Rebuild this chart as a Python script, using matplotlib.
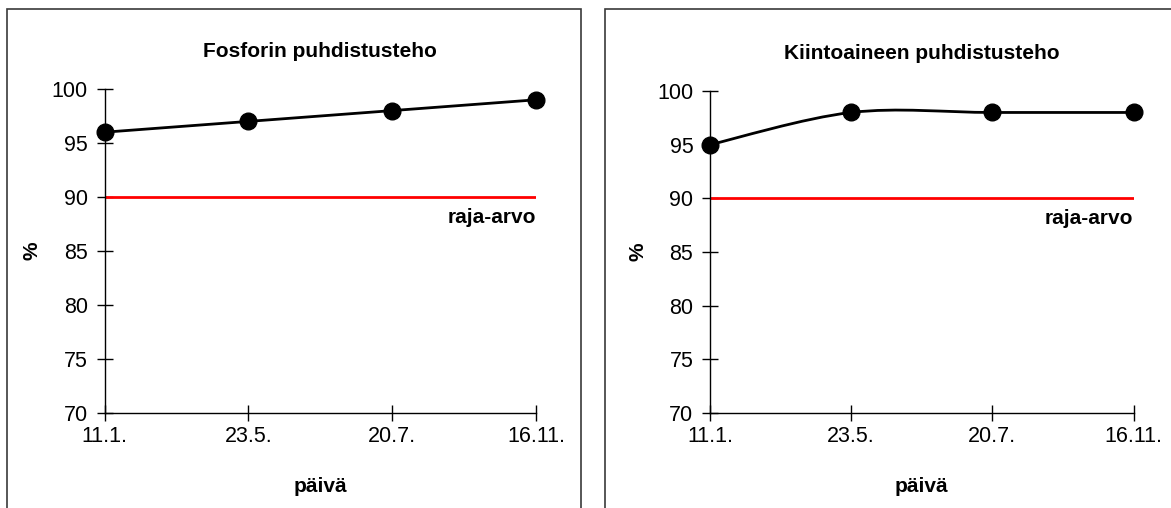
import numpy as np
import matplotlib
matplotlib.use('Agg')
import matplotlib.pyplot as plt
from matplotlib.patches import Rectangle
from matplotlib.path import Path
from matplotlib.patches import PathPatch

plt.rcParams['font.family'] = ['Liberation Sans', 'DejaVu Sans']

# data
paivat = ['11.1.', '23.5.', '20.7.', '16.11.']
fosfori = [96, 97, 98, 99]
kiintoaine = [95, 98, 98, 98]
raja_arvo = 90
otsikot = ['Fosforin puhdistusteho', 'Kiintoaineen puhdistusteho']

W, H = 1171, 508
fig = plt.figure(figsize=(W / 100, H / 100), dpi=100)

# panel frames (pixels)
for x0, x1 in [(7, 581), (605, 1180)]:
    fig.patches.append(Rectangle((x0 / W, -0.1), (x1 - x0) / W, 1.1 - 9.5 / H,
                                 transform=fig.transFigure, fill=False,
                                 edgecolor='#3a3a3a', lw=1.2))


def smooth_path(x, y):
    # excel-style smoothed line (catmull-rom as bezier)
    x = np.asarray(x, float)
    y = np.asarray(y, float)
    px = np.concatenate([[x[0]], x, [x[-1]]])
    py = np.concatenate([[y[0]], y, [y[-1]]])
    verts = [(x[0], y[0])]
    codes = [Path.MOVETO]
    for i in range(1, len(px) - 2):
        c1 = (px[i] + (px[i + 1] - px[i - 1]) / 6, py[i] + (py[i + 1] - py[i - 1]) / 6)
        c2 = (px[i + 1] - (px[i + 2] - px[i]) / 6, py[i + 1] - (py[i + 2] - py[i]) / 6)
        verts += [c1, c2, (px[i + 1], py[i + 1])]
        codes += [Path.CURVE4] * 3
    return Path(verts, codes)


akselit = [(104.5, 536, 89, 413), (710, 1133.5, 91, 413)]
sarjat = [fosfori, kiintoaine]

for k in range(2):
    l, r, t, b = akselit[k]
    ax = fig.add_axes([l / W, 1 - b / H, (r - l) / W, (b - t) / H])
    x = np.arange(len(paivat))
    y = sarjat[k]
    if k == 0:
        ax.plot(x, y, color='black', lw=2, zorder=3)
    else:
        ax.add_patch(PathPatch(smooth_path(x, y), fill=False, edgecolor='black', lw=2, zorder=3))
    ax.plot(x, y, 'o', color='black', ms=12, zorder=4, clip_on=False)
    ax.plot([x[0], x[-1]], [raja_arvo, raja_arvo], color='#ff0000', lw=2, zorder=2)
    ax.text(x[-1], 88.1, 'raja-arvo', ha='right', va='center', fontsize=15, fontweight='bold')

    ax.set_xlim(0, len(paivat) - 1)
    ax.set_ylim(70, 100)
    ax.set_xticks(x)
    ax.set_xticklabels(paivat)
    ax.set_yticks(np.arange(70, 101, 5))
    ax.tick_params(direction='inout', length=12, width=1, labelsize=15.5, pad=3)
    ax.tick_params(axis='y', pad=6)
    for s in ['top', 'right']:
        ax.spines[s].set_visible(False)
    ax.spines['left'].set_linewidth(1)
    ax.spines['bottom'].set_linewidth(1)
    ax.set_title(otsikot[k], fontsize=15, fontweight='bold', pad=23)
    ax.set_xlabel('päivä', fontsize=15, fontweight='bold', labelpad=22)
    ax.set_ylabel('%', fontsize=15, fontweight='bold', labelpad=7)

fig.savefig('out.png', dpi=100)
